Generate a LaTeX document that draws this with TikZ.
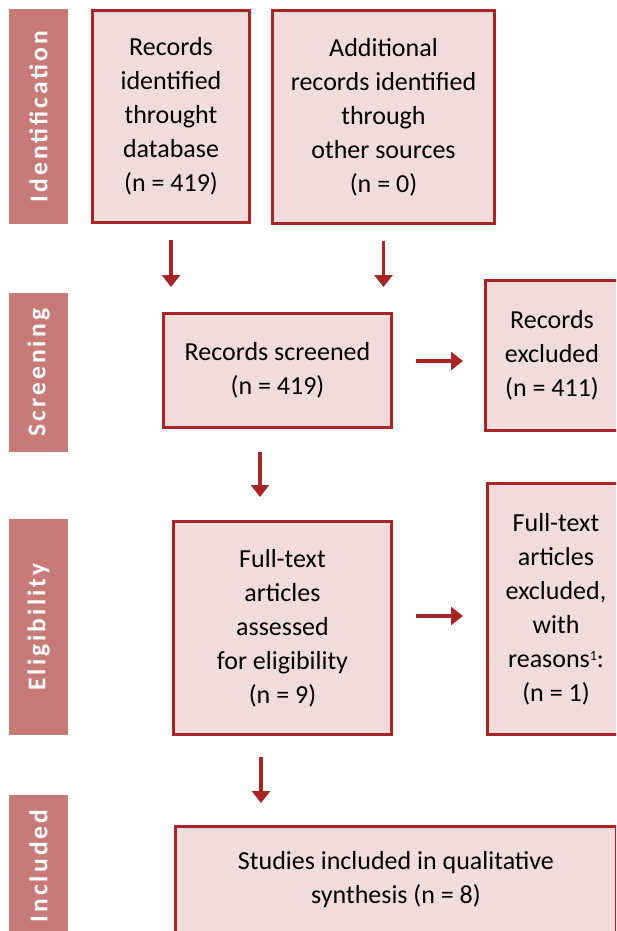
\documentclass[tikz,border=0pt]{standalone}
\usepackage{fontspec}
\setmainfont{Carlito}
\newfontfamily\phasefont{Carlito}[LetterSpace=12]
\usetikzlibrary{arrows.meta}
\definecolor{prismared}{RGB}{166,37,37}
\definecolor{prismapink}{RGB}{242,220,219}
\definecolor{phasebar}{RGB}{199,122,119}

\begin{document}
\begin{tikzpicture}[x=1pt,y=1pt]
\tikzset{every node/.append style={inner sep=0pt,outer sep=0pt}}
\tikzset{stage/.style={draw=prismared,line width=3pt,fill=prismapink,align=center,font=\fontsize{26}{34}\selectfont}}
\tikzset{phase/.style={fill=phasebar,text=white,rotate=90,minimum height=59pt,font=\phasefont\bfseries\fontsize{25.5}{28}\selectfont}}
\tikzset{flow/.style={draw=prismared,line width=3.5pt,-{Triangle[width=18pt,length=12pt]}}}
\useasboundingbox (0,0) rectangle (616,-931);
\clip (0,0) rectangle (616,-931);
% phase bars
\node [phase,minimum width=215pt] (ident) at (38.5,-116.5) {Identification};
\node [phase,minimum width=159pt] (screen) at (38.5,-372.5) {Screening};
\node [phase,minimum width=216pt] (elig) at (38.5,-627) {Eligibility};
\node [phase,minimum width=142pt] (incl) at (38.5,-866) {Included};
% boxes
\node [stage,minimum width=157pt,minimum height=212pt] (database) at (171,-116.5) {Records\\identified\\throught\\database\\(n = 419)};
\node [stage,minimum width=222pt,minimum height=213pt] (other) at (383.5,-117) {Additional\\records identified\\through\\other sources\\(n = 0)};
\node [stage,minimum width=228pt,minimum height=114pt] (screened) at (277.5,-370.5) {Records screened\\(n = 419)};
\node [stage,minimum width=133pt,minimum height=150pt] (recexcl) at (552,-355.5) {Records\\excluded\\(n = 411)};
\node [stage,minimum width=218pt,minimum height=213pt] (fulltext) at (282.5,-628) {Full-text\\articles\\assessed\\for eligibility\\(n = 9)};
\node [stage,minimum width=137pt,minimum height=251pt] (fullexcl) at (556,-609) {Full-text\\articles\\excluded,\\with\\reasons\raisebox{7pt}{\fontsize{14}{14}\selectfont 1}:\\(n = 1)};
\node [stage,minimum width=441pt,minimum height=107pt] (studies) at (396,-880) {Studies included in qualitative\\synthesis (n = 8)};
% arrows
\draw [flow,shorten <=17.5pt,shorten >=26.5pt] (database.south) -- (database.south |- screened.north);
\draw [flow,shorten <=17.5pt,shorten >=26.5pt] (other.south) -- (other.south |- screened.north);
\draw [flow,shorten <=24.5pt,shorten >=22.5pt] ([yshift=9.5pt]screened.east) -- ([yshift=9.5pt]screened.east -| recexcl.west);
\draw [flow,shorten <=24.5pt,shorten >=24.5pt] ([xshift=-17.5pt]screened.south) -- ([xshift=-17.5pt]screened.south |- fulltext.north);
\draw [flow,shorten <=24.5pt,shorten >=24.5pt] ([yshift=12pt]fulltext.east) -- ([yshift=12pt]fulltext.east -| fullexcl.west);
\draw [flow,shorten <=22.5pt,shorten >=23.5pt] ([xshift=-21.5pt]fulltext.south) -- ([xshift=-21.5pt]fulltext.south |- studies.north);
\end{tikzpicture}
\end{document}
